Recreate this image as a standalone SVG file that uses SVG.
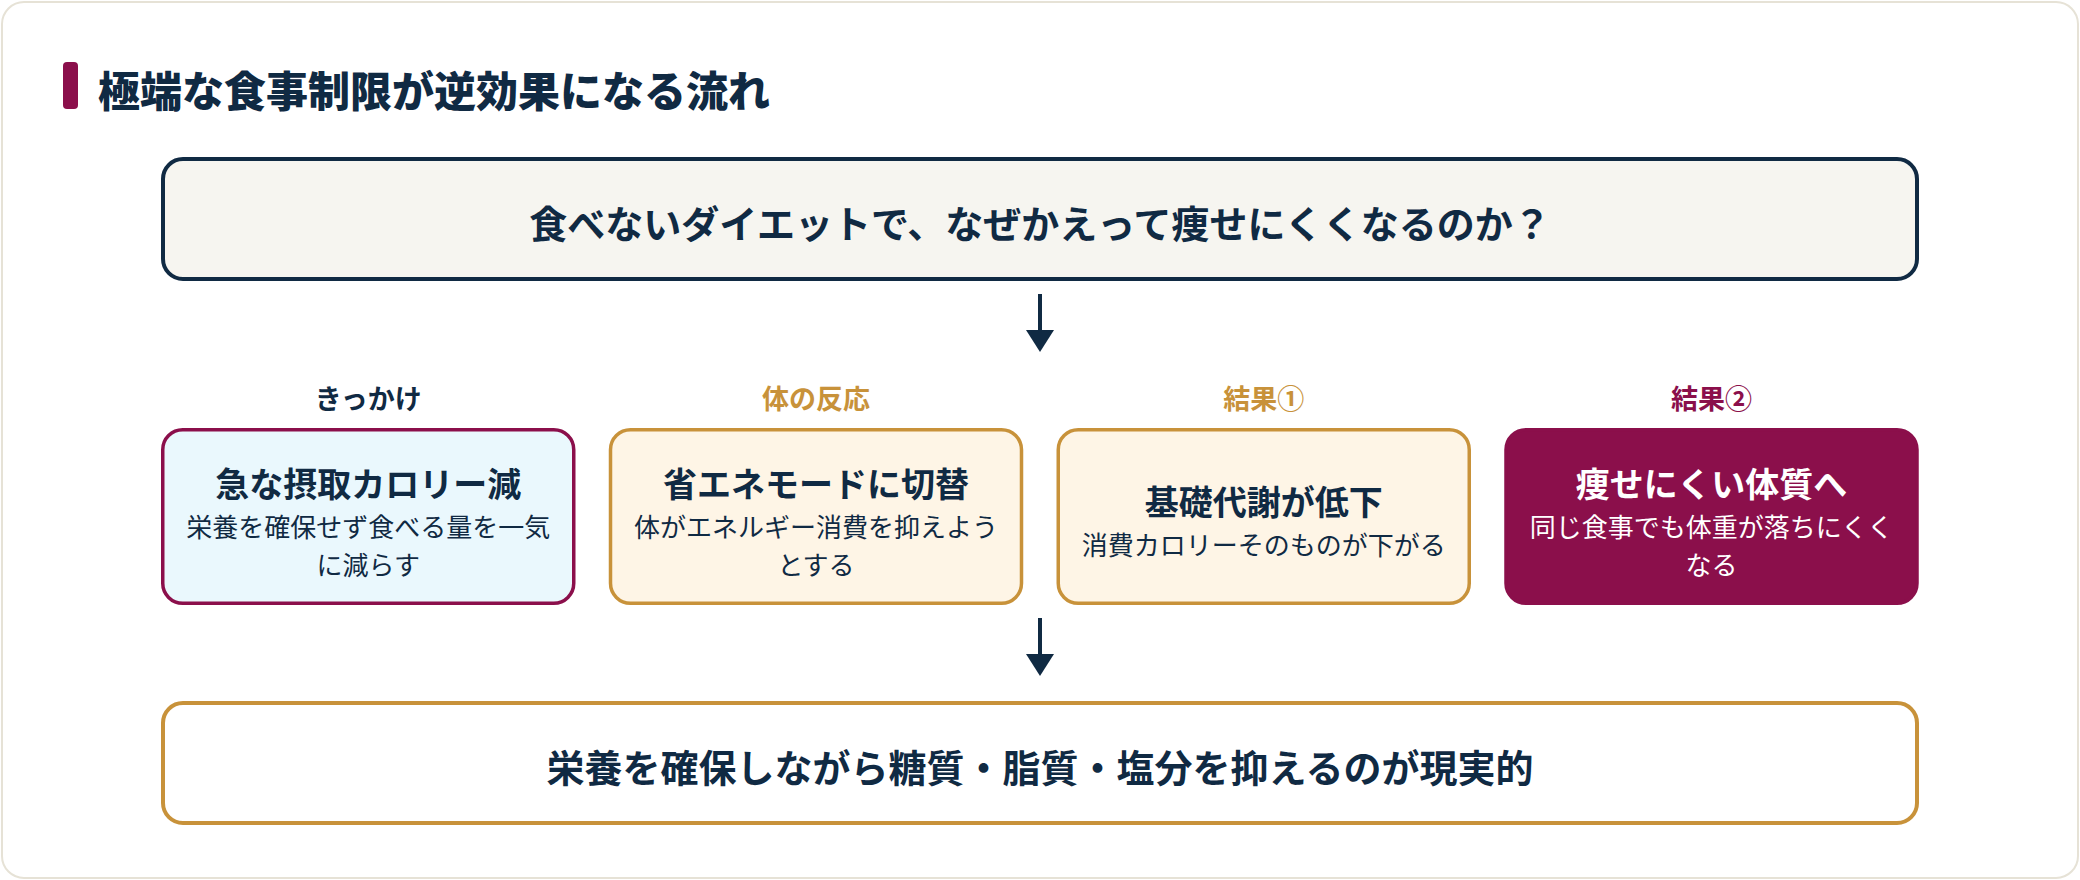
<svg xmlns="http://www.w3.org/2000/svg" width="2080" height="880" viewBox="0 0 2080 880">
  <style>
    text { font-family: "Noto Sans CJK JP", "Noto Sans", sans-serif; dominant-baseline: central; text-anchor: middle; }
    .title { font-size: 42px; font-weight: 900; fill: #102a43; text-anchor: start; }
    .big { font-size: 38px; font-weight: 700; fill: #102a43; }
    .step { font-size: 27px; font-weight: 700; }
    .ntitle { font-size: 34px; font-weight: 700; fill: #102a43; }
    .nsub { font-size: 26px; font-weight: 400; fill: #102a43; }
    .light { fill: #ffffff; }
    .navy { fill: #102a43; }
    .gold { fill: #c8923a; }
    .maroon { fill: #8b0f4b; }
    .conn { stroke: #102a43; stroke-width: 4; fill: none; }
  </style>
  <defs>
    <marker id="head" viewBox="0 0 22 28" refX="10" refY="14" markerWidth="22" markerHeight="28" markerUnits="userSpaceOnUse" orient="auto">
      <path d="M0,0 L22,14 L0,28 z" fill="#102a43"/>
    </marker>
  </defs>
  <rect x="0" y="0" width="2080" height="880" fill="#ffffff"/>
  <rect x="2" y="2" width="2076" height="876" rx="22" fill="#ffffff" stroke="#e6e2d6" stroke-width="2"/>

  <g id="heading">
    <rect x="63" y="62" width="15" height="47" rx="4" fill="#8b0f4b"/>
    <text class="title" x="98" y="88">極端な食事制限が逆効果になる流れ</text>
  </g>

  <g id="question">
    <rect x="163" y="159" width="1754" height="120" rx="20" fill="#f6f5f0" stroke="#102a43" stroke-width="4"/>
    <text class="big" x="1040" y="221">食べないダイエットで、なぜかえって痩せにくくなるのか？</text>
  </g>

  <g id="connectors">
    <line class="conn" x1="1040" y1="294" x2="1040" y2="340" marker-end="url(#head)"/>
    <line class="conn" x1="1040" y1="618" x2="1040" y2="664" marker-end="url(#head)"/>
  </g>

  <g id="step1">
    <text class="step navy" x="368.25" y="397">きっかけ</text>
    <rect x="162.75" y="429.75" width="411" height="173.5" rx="20" fill="#eaf8fd" stroke="#8b0f4b" stroke-width="3.5"/>
    <text class="ntitle" x="368.25" y="482">急な摂取カロリー減</text>
    <text class="nsub" x="368.25" y="525">栄養を確保せず食べる量を一気</text>
    <text class="nsub" x="368.25" y="563">に減らす</text>
  </g>

  <g id="step2">
    <text class="step gold" x="816" y="397">体の反応</text>
    <rect x="610.5" y="429.75" width="411" height="173.5" rx="20" fill="#fef5e6" stroke="#c8923a" stroke-width="3.5"/>
    <text class="ntitle" x="816" y="482">省エネモードに切替</text>
    <text class="nsub" x="816" y="525">体がエネルギー消費を抑えよう</text>
    <text class="nsub" x="816" y="563">とする</text>
  </g>

  <g id="step3">
    <text class="step gold" x="1263.75" y="397">結果①</text>
    <rect x="1058.25" y="429.75" width="411" height="173.5" rx="20" fill="#fef5e6" stroke="#c8923a" stroke-width="3.5"/>
    <text class="ntitle" x="1263.75" y="500">基礎代謝が低下</text>
    <text class="nsub" x="1263.75" y="543">消費カロリーそのものが下がる</text>
  </g>

  <g id="step4">
    <text class="step maroon" x="1711.5" y="397">結果②</text>
    <rect x="1506" y="429.75" width="411" height="173.5" rx="20" fill="#8b0f4b" stroke="#8b0f4b" stroke-width="3.5"/>
    <text class="ntitle light" x="1711.5" y="482">痩せにくい体質へ</text>
    <text class="nsub light" x="1711.5" y="525">同じ食事でも体重が落ちにくく</text>
    <text class="nsub light" x="1711.5" y="563">なる</text>
  </g>

  <g id="conclusion">
    <rect x="163" y="703" width="1754" height="120" rx="20" fill="#ffffff" stroke="#c8923a" stroke-width="4"/>
    <text class="big" x="1040" y="765">栄養を確保しながら糖質・脂質・塩分を抑えるのが現実的</text>
  </g>
</svg>
